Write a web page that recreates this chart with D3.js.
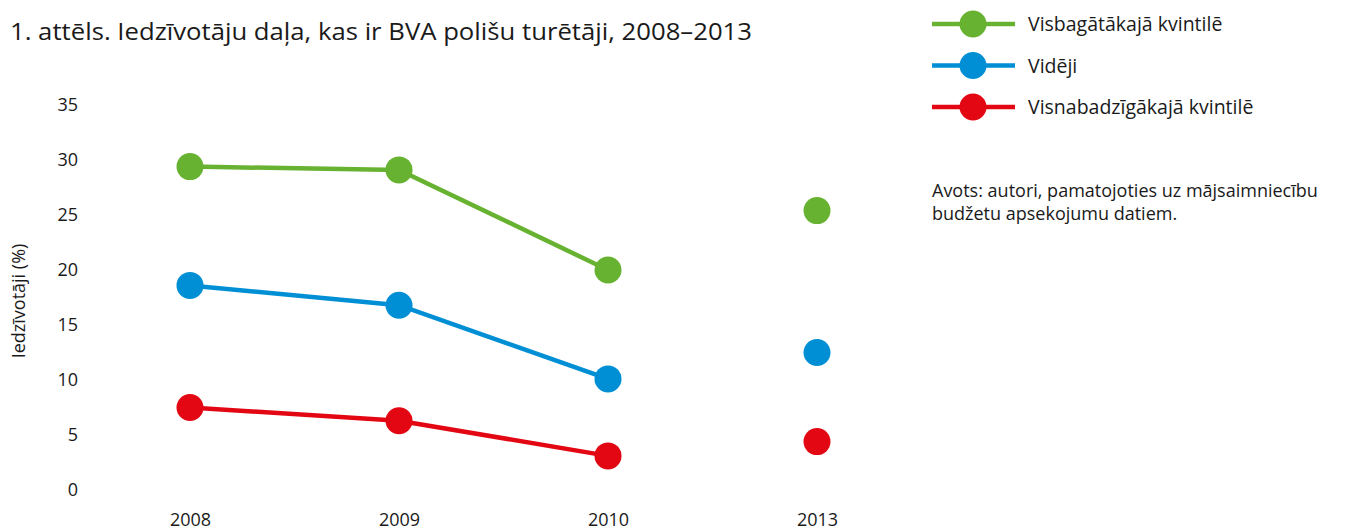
<!DOCTYPE html>
<html>
<head>
<meta charset="utf-8">
<script src="https://cdn.jsdelivr.net/npm/d3@7"></script>
<style>
  body { margin: 0; background: #fff; }
  text { font-family: "Open Sans", "Noto Sans", sans-serif; fill: #1a1a1a; }
</style>
</head>
<body>
<svg id="chart"></svg>
<script>
const width = 1354
const height = 531

const years = ["2008", "2009", "2010", "2013"]
const richest = [29.4, 29.1, 20.0, 25.4]
const average = [18.6, 16.8, 10.1, 12.5]
const poorest = [7.5, 6.3, 3.1, 4.4]
const yTicks = [0, 5, 10, 15, 20, 25, 30, 35]
const seriesNames = ["Visbagātākajā kvintilē", "Vidēji", "Visnabadzīgākajā kvintilē"]
const seriesColors = ["#67b231", "#008fd5", "#e30613"]
const connected = ["2008", "2009", "2010"]

const series = [richest, average, poorest].map((vals, i) => ({
  name: seriesNames[i],
  color: seriesColors[i],
  values: years.map((y, j) => ({ year: y, value: vals[j] }))
}))

const svg = d3.select("#chart").attr("width", width).attr("height", height)

const x = d3.scalePoint().domain(years).range([190, 817])
const y = d3.scaleLinear().domain([0, 35]).range([490, 105])

// title
svg.append("text")
  .attr("x", 10).attr("y", 40)
  .attr("font-size", 24)
  .attr("textLength", 742).attr("lengthAdjust", "spacingAndGlyphs")
  .text("1. attēls. Iedzīvotāju daļa, kas ir BVA polišu turētāji, 2008–2013")

// y axis (labels only)
const yAxis = svg.append("g")
  .attr("transform", "translate(78,0)")
  .call(d3.axisLeft(y).tickValues(yTicks).tickSize(0).tickPadding(0))
yAxis.select(".domain").remove()
yAxis.attr("font-size", 18).attr("font-family", null)
yAxis.selectAll("text").attr("fill", "#1a1a1a")

svg.append("text")
  .attr("transform", "translate(25,301) rotate(-90)")
  .attr("text-anchor", "middle")
  .attr("font-size", 18)
  .text("Iedzīvotāji (%)")

// x axis (labels only)
const xAxis = svg.append("g")
  .attr("transform", "translate(0,513)")
  .call(d3.axisBottom(x).tickSize(0).tickPadding(0))
xAxis.select(".domain").remove()
xAxis.attr("font-size", 18).attr("font-family", null)
xAxis.selectAll("text").attr("fill", "#1a1a1a")

const line = d3.line().x(d => x(d.year)).y(d => y(d.value))

const g = svg.append("g")
g.selectAll("path.series")
  .data(series)
  .join("path")
  .attr("class", "series")
  .attr("fill", "none")
  .attr("stroke", d => d.color)
  .attr("stroke-width", 4.5)
  .attr("d", d => line(d.values.filter(v => connected.includes(v.year))))

g.selectAll("g.dots")
  .data(series)
  .join("g")
  .attr("class", "dots")
  .attr("fill", d => d.color)
  .selectAll("circle")
  .data(d => d.values)
  .join("circle")
  .attr("cx", d => x(d.year))
  .attr("cy", d => y(d.value))
  .attr("r", 13.5)

// legend
const legend = svg.append("g")
  .selectAll("g")
  .data(series)
  .join("g")
  .attr("transform", (d, i) => `translate(932,${24 + i * 41.5})`)

legend.append("line")
  .attr("x1", 0).attr("x2", 83)
  .attr("stroke", d => d.color).attr("stroke-width", 4.5)
legend.append("circle")
  .attr("cx", 41).attr("r", 13.5)
  .attr("fill", d => d.color)
legend.append("text")
  .attr("x", 96).attr("y", 7)
  .attr("font-size", 19.5)
  .text(d => d.name)

const source = svg.append("text").attr("x", 932).attr("font-size", 18)
source.append("tspan").attr("x", 932).attr("y", 197).text("Avots: autori, pamatojoties uz mājsaimniecību")
source.append("tspan").attr("x", 932).attr("y", 220).text("budžetu apsekojumu datiem.")
</script>
</body>
</html>
